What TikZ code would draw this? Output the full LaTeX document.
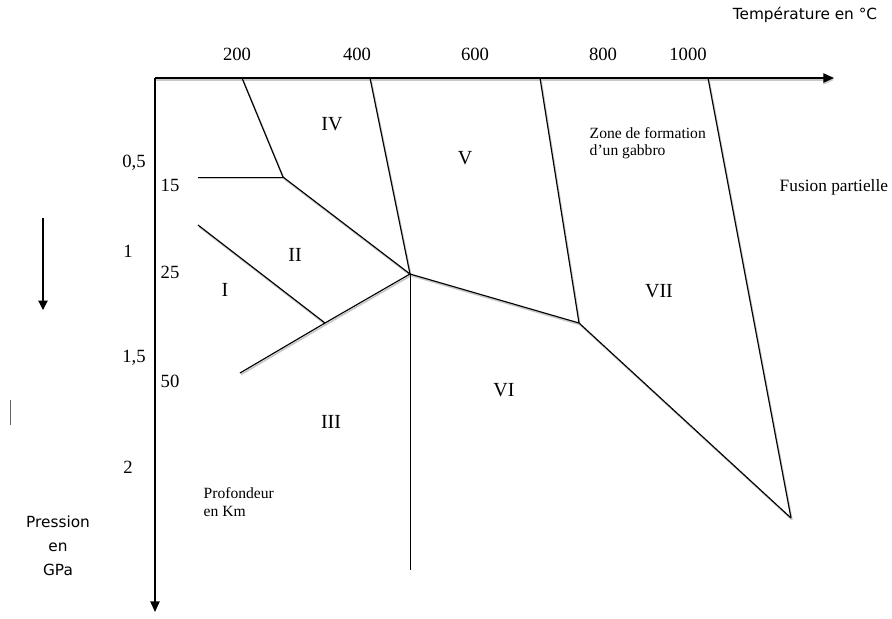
\documentclass[tikz,border=0pt]{standalone}
\usepackage{fontspec}
\setmainfont{Liberation Serif}
\newfontfamily\comic{DejaVu Sans}
\usetikzlibrary{arrows.meta}
\tikzset{
  ridge/.style={line width=0.85pt, preaction={draw=black!22, line width=1.2pt, transform canvas={xshift=0.7pt,yshift=-1.2pt}}},
  plainridge/.style={line width=0.6pt},
  axis/.style={line width=1.1pt, -{Triangle[length=8pt,width=7pt]}},
  roman/.style={font=\fontsize{15}{17}\selectfont},
  num/.style={font=\fontsize{14}{16}\selectfont},
  small/.style={font=\fontsize{11.7}{13}\selectfont, align=left},
  comicl/.style={font=\comic\fontsize{11.5}{18}\selectfont, align=center}
}
\begin{document}
\begin{tikzpicture}[x=0.75pt,y=-0.75pt]
\useasboundingbox (0,0) rectangle (892,618);
% axes
\coordinate (O) at (155,78);
\coordinate (Xe) at (834,78);
\coordinate (Ye) at (155,612);
\draw[axis, preaction={draw=black!22, line width=1pt, transform canvas={yshift=-1.4pt}}] (O) -- (Xe);
\draw[axis] (O) -- (Ye);
% pressure arrow
\coordinate (pa) at (43,218);
\coordinate (pb) at (43,310);
\draw[line width=0.8pt, -{Triangle[length=7pt,width=7pt]}] (pa) -- (pb);
\coordinate (ta) at (10,400);
\coordinate (tb) at (10,425);
\draw[black!60, line width=0.7pt] (ta) -- (tb);
% key points
\coordinate (a1) at (242,78);
\coordinate (b) at (283,177);
\coordinate (b0) at (198,177);
\coordinate (T) at (410,274);
\coordinate (a2) at (370,78);
\coordinate (c0) at (198,225);
\coordinate (c) at (325,323);
\coordinate (d0) at (240,373);
\coordinate (Tb) at (410,570);
\coordinate (e) at (579,323);
\coordinate (a3) at (540,78);
\coordinate (f) at (791,518);
\coordinate (a4) at (708,78);
% boundaries
\draw[ridge] (a1) -- (b);
\draw[plainridge, preaction={draw=black!22, line width=1pt, transform canvas={yshift=-1.3pt}}] (b0) -- (b);
\draw[ridge] (b) -- (T);
\draw[ridge] (a2) -- (T);
\draw[ridge] (c0) -- (c);
\draw[ridge] (d0) -- (c) -- (T);
\draw[plainridge] (T) -- (Tb);
\draw[ridge] (T) -- (e);
\draw[ridge] (a3) -- (e);
\draw[ridge] (e) -- (f);
\draw[ridge] (a4) -- (f);
% top labels
\node[num] (t200) at (237,54) {200};
\node[num] (t400) at (357,54) {400};
\node[num] (t600) at (475,54) {600};
\node[num] (t800) at (603,54) {800};
\node[num] (t1000) at (688,54) {1000};
\node[comicl] (temp) at (805,15) {Température en °C};
% left labels
\node[num] (p05) at (134,163) {0,5};
\node[num] (p1) at (128,251) {1};
\node[num] (p15) at (134,358) {1,5};
\node[num] (p2) at (128,467) {2};
\node[num] (k15) at (170,185) {15};
\node[num] (k25) at (170,272) {25};
\node[num] (k50) at (170,381) {50};
\node[comicl] (press) at (58,546) {Pression\\en\\GPa};
\node[small, anchor=west] (prof) at (199,502) {Profondeur\\en Km};
% regions
\node[roman] (rIV) at (332,124) {IV};
\node[roman] (rV) at (465,158) {V};
\node[roman] (rII) at (295,255) {II};
\node[roman] (rI) at (225,290) {I};
\node[roman] (rIII) at (331,422) {III};
\node[roman] (rVI) at (504,390) {VI};
\node[roman] (rVII) at (659,291) {VII};
\node[small, anchor=west] (zone) at (585,143) {Zone de formation\\d’un gabbro};
\node[small, anchor=west, font=\fontsize{13}{15}\selectfont] (fus) at (775,187) {Fusion partielle};
\end{tikzpicture}
\end{document}
